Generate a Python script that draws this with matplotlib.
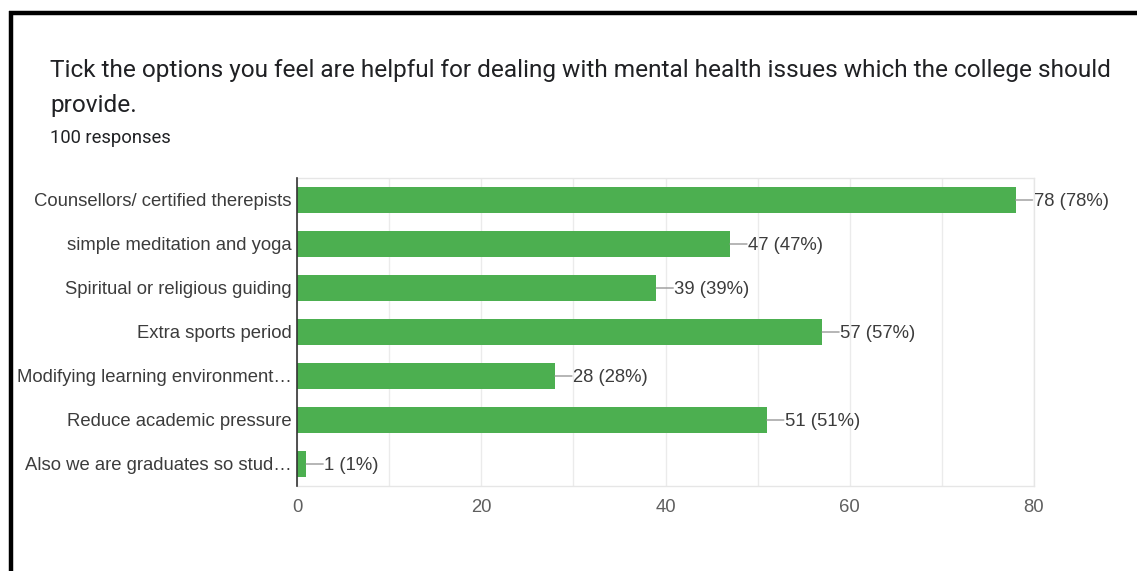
import matplotlib
matplotlib.use("Agg")
import matplotlib.pyplot as plt
from matplotlib.lines import Line2D

categories = [
    "Counsellors/ certified therepists",
    "simple meditation and yoga",
    "Spiritual or religious guiding",
    "Extra sports period",
    "Modifying learning environment\u2026",
    "Reduce academic pressure",
    "Also we are graduates so stud\u2026",
]
counts = [78, 47, 39, 57, 28, 51, 1]
total_responses = 100
x_ticks = [0, 20, 40, 60, 80]

GREEN = "#4caf50"
W, H = 1137, 571
fig = plt.figure(figsize=(W / 100, H / 100), dpi=100)
fig.patch.set_facecolor("white")

# frame lines along the top and left edges
fig.add_artist(Line2D([9 / W, 1.0], [1 - 13 / H, 1 - 13 / H], color="black",
                      lw=3.2, transform=fig.transFigure, solid_capstyle="butt"))
fig.add_artist(Line2D([10.5 / W, 10.5 / W], [0, 1 - 11 / H], color="black",
                      lw=3.2, transform=fig.transFigure, solid_capstyle="butt"))

title_font = dict(family="Roboto", color="#202124")
fig.text(50 / W, 1 - 68 / H,
         "Tick the options you feel are helpful for dealing with mental health issues which the college should",
         fontsize=17.6, va="center_baseline", ha="left", **title_font)
fig.text(50 / W, 1 - 103 / H, "provide.", fontsize=17.6, va="center_baseline", ha="left",
         **title_font)
fig.text(50 / W, 1 - 136 / H, f"{total_responses} responses", fontsize=13.2,
         va="center_baseline", ha="left", **title_font)

ax = fig.add_axes([297 / W, 1 - 486 / H, (1034 - 297) / W, (486 - 178) / H])
y = list(range(len(categories)))
ax.barh(y, counts, height=0.61, color=GREEN, zorder=3)
ax.set_ylim(len(categories) - 0.5, -0.5)
ax.set_xlim(0, 80)

label_font = "Liberation Sans"
label_size = 13.3
ax.set_yticks(y)
ax.set_yticklabels(categories, fontsize=label_size, family=label_font, color="#3c3c3c")
ax.set_xticks(x_ticks)
ax.set_xticklabels([str(t) for t in x_ticks], fontsize=label_size, family=label_font,
                   color="#5f5f5f")
ax.set_xticks(range(10, 80, 20), minor=True)
ax.tick_params(axis="y", length=0, pad=4)
ax.tick_params(axis="x", which="both", length=0, pad=9)
ax.grid(axis="x", which="both", color="#ebebeb", lw=1, zorder=0)

for side in ("top", "right", "bottom"):
    ax.spines[side].set_color("#e6e6e6")
    ax.spines[side].set_linewidth(1)
ax.spines["left"].set_color("#333333")
ax.spines["left"].set_linewidth(1.2)
ax.spines["left"].set_zorder(4)

for yi, c in zip(y, counts):
    # short horizontal leader from the bar end to its value label
    ax.annotate("", xy=(c, yi), xytext=(17, 0), textcoords="offset pixels",
                arrowprops=dict(arrowstyle="-", color="#999999", lw=1,
                                shrinkA=0, shrinkB=0))
    ax.annotate(f"{c} ({round(100 * c / total_responses)}%)", xy=(c, yi),
                xytext=(18, 0), textcoords="offset pixels", va="center_baseline",
                ha="left", fontsize=label_size, family=label_font, color="#3c3c3c")

fig.savefig("out.png", dpi=100, facecolor="white")
